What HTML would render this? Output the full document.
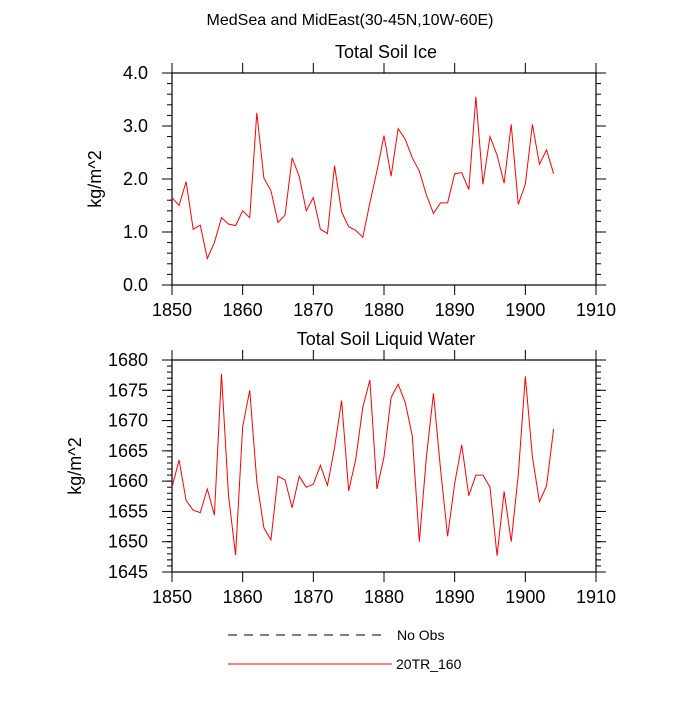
<!DOCTYPE html>
<html><head><meta charset="utf-8"><style>
body{margin:0;background:#fff}
text{font-family:"Liberation Sans",sans-serif;fill:#000}
</style></head><body>
<svg id="c" width="700" height="700" xmlns="http://www.w3.org/2000/svg">
<text x="350" y="25" font-size="16" text-anchor="middle">MedSea and MidEast(30-45N,10W-60E)</text>
<g id="p1"></g>
<g id="p2"></g>
<g>
<line x1="228" y1="635" x2="386" y2="635" stroke="#000" stroke-width="1" stroke-dasharray="9,7"/>
<text x="397" y="640" font-size="14">No Obs</text>
<line x1="228" y1="664" x2="392" y2="664" stroke="#f00" stroke-width="1"/>
<text x="396" y="669" font-size="14">20TR_160</text>
</g>
</svg>
<script>
const years=[];for(let y=1850;y<=1904;y++)years.push(y);
const iceValues=[1.65,1.5,1.95,1.05,1.13,0.5,0.8,1.27,1.15,1.12,1.4,1.27,3.25,2.02,1.78,1.18,1.32,2.4,2.05,1.4,1.65,1.05,0.97,2.25,1.38,1.1,1.03,0.9,1.55,2.15,2.82,2.05,2.95,2.75,2.4,2.15,1.7,1.35,1.55,1.55,2.1,2.12,1.8,3.55,1.9,2.8,2.45,1.92,3.03,1.52,1.9,3.03,2.28,2.55,2.1];
const waterValues=[1659,1663.5,1656.8,1655.2,1654.8,1658.7,1654.4,1677.7,1657.6,1647.8,1669,1675,1660,1652.3,1650.3,1660.8,1660.2,1655.6,1660.8,1659,1659.5,1662.6,1659.3,1665.5,1673.3,1658.4,1663.6,1672.2,1676.7,1658.7,1664,1673.8,1676,1673,1667.5,1650,1664,1674.5,1662,1650.9,1659.6,1666,1657.6,1661,1661,1659,1647.7,1658.3,1650,1661,1677.3,1664,1656.6,1659.2,1668.6];
const xTicks=[1850,1860,1870,1880,1890,1900,1910];
const iceTicks=[0,1,2,3,4];
const waterTicks=[1645,1650,1655,1660,1665,1670,1675,1680];
const NS="http://www.w3.org/2000/svg";
function mk(p,t,a){const e=document.createElementNS(NS,t);for(const k in a)e.setAttribute(k,a[k]);p.appendChild(e);return e;}
const X0=172,X1=596;
const xs=v=>X0+(v-1850)/60*(X1-X0);
function panel(g,top,bot,ymin,ymax,yt,minorStep,fmt,vals,title,name){
  const ys=v=>bot-(v-ymin)/(ymax-ymin)*(bot-top);
  let t=mk(g,'text',{x:386,y:top-15,'font-size':18,'text-anchor':'middle'});t.textContent=title;
  
  
  mk(g,'rect',{x:X0,y:top,width:X1-X0,height:bot-top,fill:'none',stroke:'#000','stroke-width':1.2});
  for(let v=ymin;v<=ymax+1e-9;v+=minorStep){const y=ys(v);mk(g,'line',{x1:X0-5,x2:X0,y1:y,y2:y,stroke:'#000'});mk(g,'line',{x1:X1,x2:X1+5,y1:y,y2:y,stroke:'#000'});}
  yt.forEach(v=>{const y=ys(v);mk(g,'line',{x1:X0-10,x2:X0,y1:y,y2:y,stroke:'#000'});mk(g,'line',{x1:X1,x2:X1+10,y1:y,y2:y,stroke:'#000'});
    const l=mk(g,'text',{x:X0-24,y:y+6,'font-size':18,'text-anchor':'end'});l.textContent=fmt(v);
    
    });
  xTicks.forEach(v=>{const x=xs(v);mk(g,'line',{x1:x,x2:x,y1:top-10,y2:top,stroke:'#000'});mk(g,'line',{x1:x,x2:x,y1:bot,y2:bot+10,stroke:'#000'});
    const l=mk(g,'text',{x:x,y:bot+31,'font-size':18,'text-anchor':'middle'});l.textContent=v;
    
    });
  const yl=mk(g,'text',{x:0,y:0,'font-size':18,'text-anchor':'middle',transform:`translate(${name=='ice'?101:81},${(top+bot)/2}) rotate(-90)`});yl.textContent='kg/m^2';
  
  
  const pl=mk(g,'polyline',{points:vals.map((v,i)=>xs(years[i])+','+ys(v)).join(' '),fill:'none',stroke:'#f00','stroke-width':1});
  
  
}
panel(document.getElementById('p1'),73,285,0,4,iceTicks,0.2,v=>v.toFixed(1),iceValues,'Total Soil Ice','ice');
panel(document.getElementById('p2'),360,572,1645,1680,waterTicks,1,v=>v,waterValues,'Total Soil Liquid Water','water');
</script>
</body></html>
